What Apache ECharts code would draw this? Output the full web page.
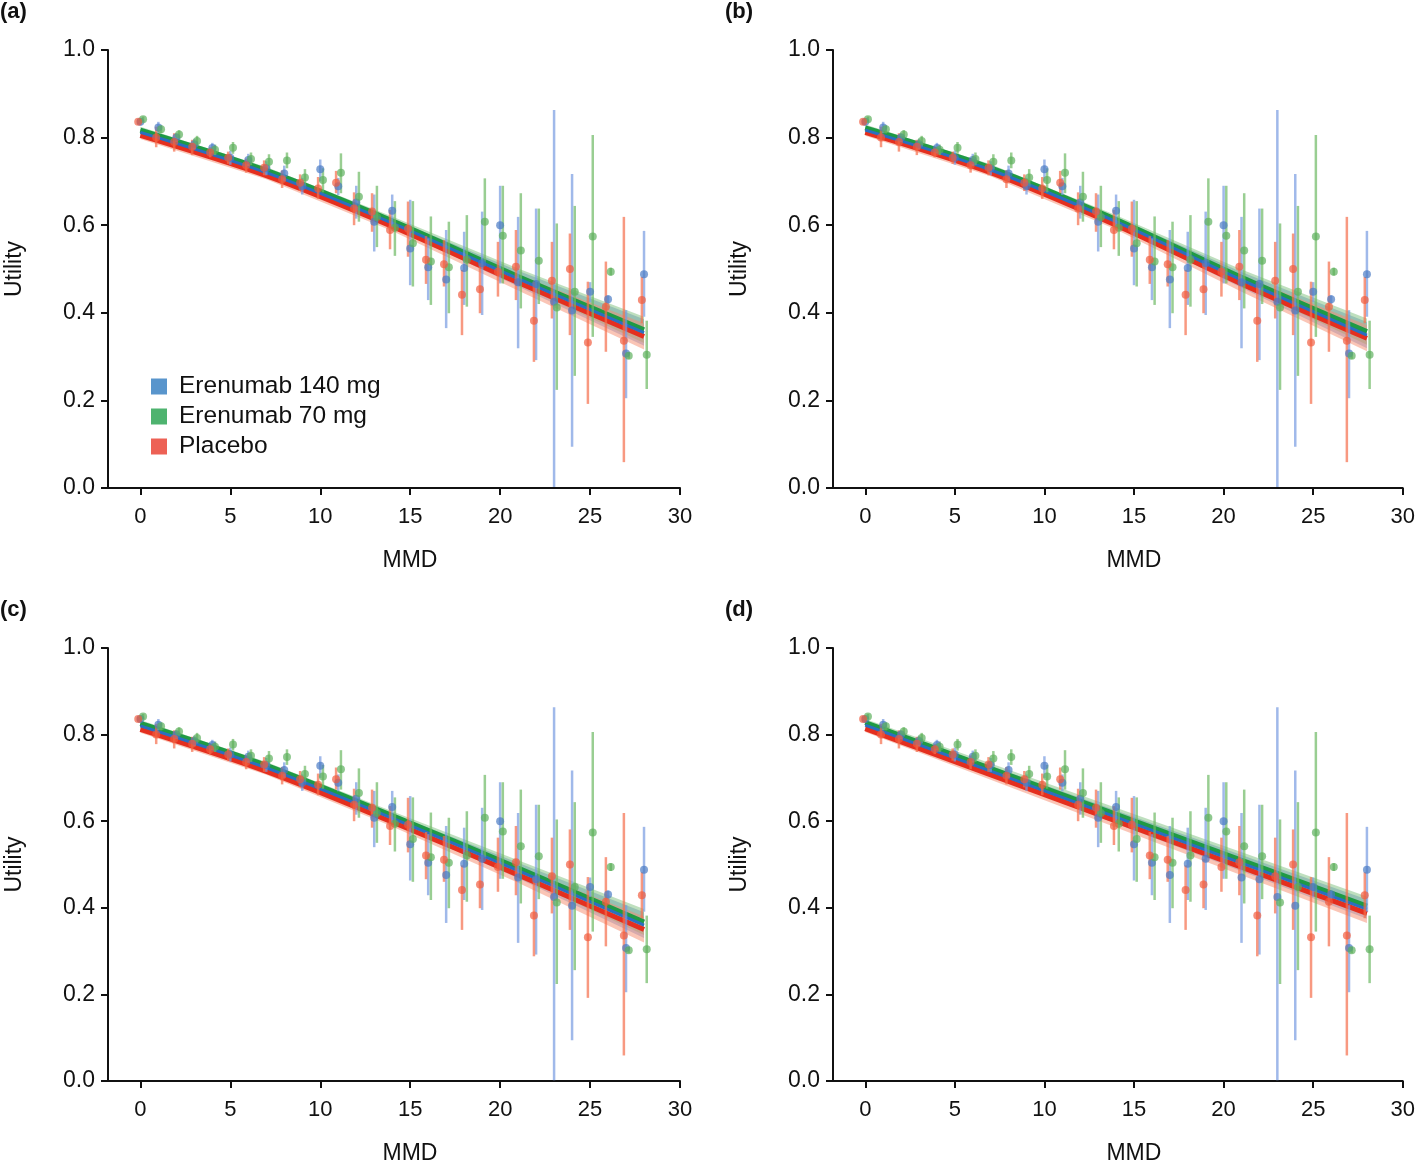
<!DOCTYPE html>
<html><head><meta charset="utf-8">
<script src="https://cdn.jsdelivr.net/npm/echarts@6/dist/echarts.min.js"></script>
<style>html,body{margin:0;padding:0;background:#fff}#c{width:1418px;height:1166px}</style>
</head><body><div id="c"></div>
<script>
// ---------- data ----------
const mmd = [0,1,2,3,4,5,6,7,8,9,10,11,12,13,14,15,16,17,18,19,20,21,22,23,24,25,26,27,28];
const xTicks = [0,5,10,15,20,25,30];
const yTicks = [0,0.2,0.4,0.6,0.8,1.0];
const groupNames = ['Erenumab 140 mg','Erenumab 70 mg','Placebo'];
const groupDodge = [0, 0.15, -0.12];

const blueMean = [0.836,0.823,0.800,0.785,0.776,0.754,0.749,0.730,0.718,0.689,0.728,0.689,0.652,0.608,0.633,0.547,0.504,0.476,0.502,0.513,0.600,0.470,0.466,0.425,0.405,0.448,0.431,0.307,0.488];
const blueLo   = [0.828,0.810,0.790,0.773,0.764,0.738,0.735,0.714,0.700,0.670,0.700,0.669,0.615,0.540,0.595,0.463,0.429,0.365,0.418,0.395,0.467,0.319,0.292,0.002,0.094,0.425,0.420,0.205,0.391];
const blueHi   = [0.844,0.836,0.810,0.797,0.788,0.770,0.763,0.746,0.736,0.708,0.750,0.708,0.690,0.670,0.670,0.658,0.570,0.589,0.585,0.631,0.690,0.619,0.638,0.863,0.717,0.470,0.440,0.406,0.587];

const greenMean = [0.842,0.819,0.807,0.792,0.772,0.777,0.751,0.745,0.748,0.709,0.703,0.720,0.665,0.619,0.594,0.559,0.517,0.504,0.521,0.608,0.576,0.542,0.519,0.412,0.448,0.574,0.494,0.302,0.304];
const greenLo   = [0.836,0.810,0.797,0.780,0.760,0.763,0.737,0.728,0.730,0.690,0.675,0.673,0.608,0.550,0.530,0.460,0.418,0.399,0.414,0.517,0.467,0.410,0.420,0.224,0.256,0.345,0.485,0.295,0.226];
const greenHi   = [0.848,0.828,0.817,0.804,0.784,0.790,0.766,0.762,0.766,0.728,0.730,0.764,0.722,0.690,0.655,0.655,0.620,0.608,0.623,0.707,0.690,0.673,0.638,0.604,0.644,0.806,0.503,0.310,0.382];

const redMean = [0.836,0.800,0.790,0.779,0.766,0.754,0.737,0.731,0.705,0.697,0.684,0.697,0.638,0.631,0.589,0.592,0.521,0.511,0.441,0.454,0.494,0.505,0.382,0.473,0.500,0.332,0.414,0.336,0.429];
const redLo   = [0.830,0.778,0.768,0.760,0.755,0.740,0.720,0.714,0.685,0.678,0.660,0.673,0.600,0.585,0.545,0.528,0.466,0.460,0.349,0.399,0.437,0.429,0.288,0.387,0.349,0.192,0.311,0.059,0.376];
const redHi   = [0.842,0.825,0.810,0.795,0.778,0.768,0.752,0.748,0.725,0.716,0.710,0.724,0.675,0.673,0.635,0.654,0.575,0.566,0.498,0.513,0.562,0.589,0.471,0.562,0.581,0.471,0.517,0.619,0.482];

// fitted curves read at knots
const knotsCurved = [0,7,14,21,28];
const knotsLinear = [0,28];
const fitA_blue  = [0.812,0.720,0.605,0.478,0.355];
const fitA_green = [0.817,0.725,0.610,0.483,0.361];
const fitA_red   = [0.805,0.713,0.597,0.469,0.346];
const fitB_blue  = [0.817,0.726,0.608,0.475,0.349];
const fitB_green = [0.822,0.731,0.613,0.481,0.357];
const fitB_red   = [0.812,0.720,0.600,0.466,0.342];
const fitC_blue  = [0.820,0.723,0.607,0.486,0.360];
const fitC_green = [0.826,0.729,0.613,0.492,0.367];
const fitC_red   = [0.812,0.715,0.598,0.476,0.350];
const fitD_blue  = [0.822,0.397];
const fitD_green = [0.828,0.404];
const fitD_red   = [0.814,0.387];
const bandHalfCurved = [0.008,0.008,0.010,0.018,0.030];
const bandHalfLinear = [0.008,0.022];

// ---------- styles ----------
const FONT = 'Liberation Sans, Arial, Helvetica, sans-serif';
const legendColors = ['#2f7bbf','#22a04b','#e8392b'];
const lineColors = ['#2a6fc0','#1f9a45','#e42f1f'];
const bandColors = ['rgba(110,145,215,0.5)','rgba(110,185,110,0.45)','rgba(245,140,110,0.5)'];
const pointColors = ['rgba(70,120,195,0.85)','rgba(90,175,90,0.85)','rgba(240,90,60,0.85)'];
const barColors = ['rgba(120,155,225,0.7)','rgba(110,185,100,0.7)','rgba(245,110,75,0.7)'];

const panels = [
  {label:'(a)', left:108, top:50, knots:knotsCurved, half:bandHalfCurved, fits:[fitA_blue,fitA_green,fitA_red]},
  {label:'(b)', left:833, top:50, knots:knotsCurved, half:bandHalfCurved, fits:[fitB_blue,fitB_green,fitB_red]},
  {label:'(c)', left:108, top:648, knots:knotsCurved, half:bandHalfCurved, fits:[fitC_blue,fitC_green,fitC_red]},
  {label:'(d)', left:833, top:648, knots:knotsLinear, half:bandHalfLinear, fits:[fitD_blue,fitD_green,fitD_red]}
];
const means = [blueMean, greenMean, redMean];
const los = [blueLo, greenLo, redLo];
const his = [blueHi, greenHi, redHi];

const grids = [], xAxes = [], yAxes = [], series = [], graphics = [];
panels.forEach((p, i) => {
  grids.push({left:p.left, top:p.top, width:572, height:438});
  xAxes.push({
    type:'value', gridIndex:i, min:-1.8, max:30,
    name:'MMD', nameLocation:'middle', nameGap:61,
    nameTextStyle:{fontFamily:FONT, fontSize:23, color:'#111', padding:[0,0,0,32]},
    axisLine:{show:true, onZero:false, lineStyle:{color:'#111', width:2}},
    axisTick:{show:true, length:7, lineStyle:{color:'#111', width:2}, customValues:xTicks},
    axisLabel:{fontFamily:FONT, fontSize:22, color:'#111', margin:18, customValues:xTicks},
    splitLine:{show:false}
  });
  yAxes.push({
    type:'value', gridIndex:i, min:0, max:1, interval:0.2,
    name:'Utility', nameLocation:'middle', nameGap:82,
    nameTextStyle:{fontFamily:FONT, fontSize:23, color:'#111'},
    axisLine:{show:true, onZero:false, lineStyle:{color:'#111', width:2}},
    axisTick:{show:true, length:7, lineStyle:{color:'#111', width:2}},
    axisLabel:{fontFamily:FONT, fontSize:23, color:'#111', margin:13, formatter:v=>v.toFixed(1)},
    splitLine:{show:false}
  });
  graphics.push({type:'text', left:p.left-108, top:p.top-49,
    style:{text:p.label, font:'bold 22px '+FONT, fill:'#111'}});

  // confidence bands
  [0,1,2].forEach(g => {
    const fit = p.fits[g];
    series.push({type:'custom', xAxisIndex:i, yAxisIndex:i, clip:true, z:1, silent:true,
      data:[[p.knots[0], fit[0]]],
      encode:{x:0, y:1},
      renderItem:(params, api) => {
        const up = p.knots.map((k,j)=>api.coord([k, fit[j]+p.half[j]]));
        const dn = p.knots.map((k,j)=>api.coord([k, fit[j]-p.half[j]])).reverse();
        return {type:'polygon', shape:{points:up.concat(dn)}, style:{fill:bandColors[g]}};
      }});
  });
  // fitted lines
  [[1,5],[2,5],[0,3]].forEach(([g,w]) => {
    series.push({type:'line', xAxisIndex:i, yAxisIndex:i, smooth:0.3, symbol:'none', silent:true, z:2,
      lineStyle:{color:lineColors[g], width:w}, data:p.knots.map((k,j)=>[k, p.fits[g][j]])});
  });
  // error bars and points
  [0,1,2].forEach(g => {
    series.push({type:'custom', xAxisIndex:i, yAxisIndex:i, clip:true, z:3, silent:true,
      data:mmd.map((m,j)=>[m+groupDodge[g], los[g][j], his[g][j]]),
      encode:{x:0, y:[1,2]},
      renderItem:(params, api) => {
        const x = api.value(0);
        const a = api.coord([x, api.value(1)]);
        const b = api.coord([x, api.value(2)]);
        return {type:'line', shape:{x1:a[0], y1:a[1], x2:b[0], y2:b[1]},
          style:{stroke:barColors[g], lineWidth:2.5}};
      }});
    series.push({type:'scatter', name: i===0 ? groupNames[g] : undefined, xAxisIndex:i, yAxisIndex:i, z:4,
      symbolSize:8, itemStyle:{color:pointColors[g]},
      data:mmd.map((m,j)=>[m+groupDodge[g], means[g][j]])});
  });
});

const chart = echarts.init(document.getElementById('c'), null, {renderer:'canvas'});
chart.setOption({
  backgroundColor:'#fff',
  animation:false,
  grid:grids, xAxis:xAxes, yAxis:yAxes, series:series,
  graphic:graphics,
  legend:{
    orient:'vertical', left:146, top:369, itemWidth:16, itemHeight:16, itemGap:5,
    icon:'rect', selectedMode:false,
    textStyle:{fontFamily:FONT, fontSize:24.5, color:'#111', padding:[0,0,0,7]},
    data:groupNames.map((n,g)=>({name:n, icon:'rect', itemStyle:{color:legendColors[g]}}))
  }
});
</script></body></html>
